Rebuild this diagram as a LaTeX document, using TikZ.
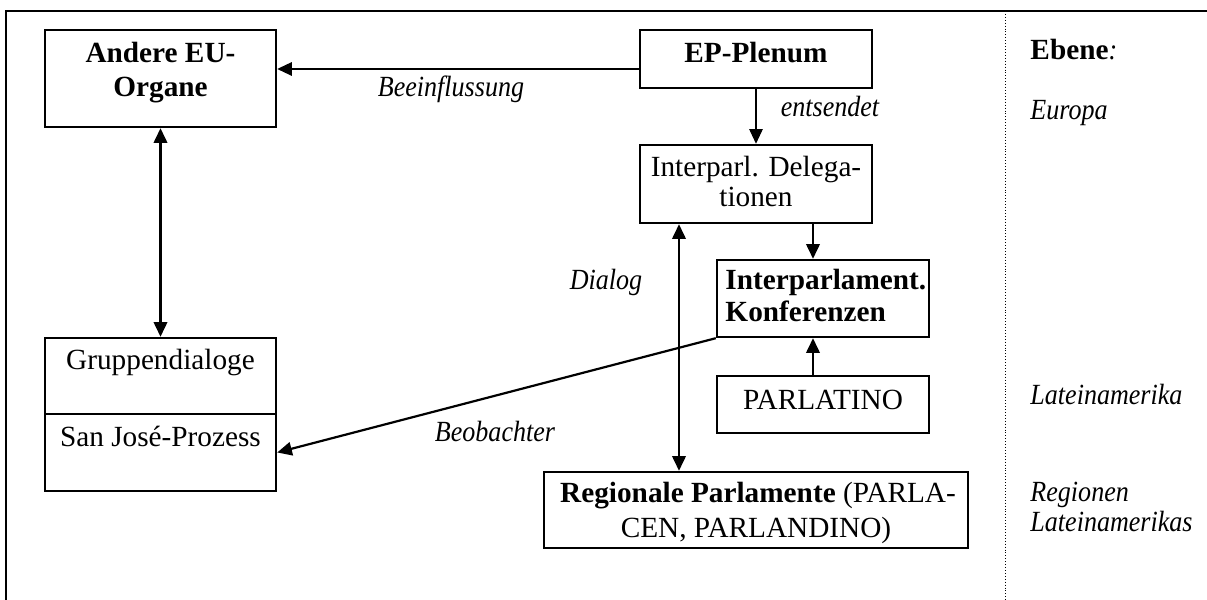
\documentclass[tikz,border=0pt]{standalone}
\usepackage{fontspec}
\setmainfont{Liberation Serif}[ItalicFeatures={FakeStretch=0.89}]
\usetikzlibrary{arrows.meta}

\tikzset{
  box/.style={draw, line width=1pt, inner sep=0pt},
  txt/.style={anchor=base, inner sep=0pt},
  lbl/.style={anchor=base, inner sep=0pt, font=\fontsize{12pt}{14pt}\selectfont\itshape},
  lvl/.style={anchor=base west, inner sep=0pt, font=\fontsize{12pt}{14pt}\selectfont\itshape},
  arr/.style={line width=0.9pt, -{Triangle[length=6pt,width=5.5pt]}},
  darr/.style={line width=0.9pt, {Triangle[length=6pt,width=5.5pt]}-{Triangle[length=6pt,width=5.5pt]}},
}

\begin{document}
\begin{tikzpicture}[x=0.41pt, y=-0.41pt, every node/.style={font=\fontsize{12pt}{14pt}\selectfont}]
   \useasboundingbox (0,0) rectangle (1207,600);
   % frame and level divider
   \draw[line width=1pt] (6,600) -- (6,11) -- (1207,11);
   \draw[line width=0.4pt, dash pattern=on 0.4pt off 0.8pt] (1005,11) -- (1005,600);

   % boxes
   \node[box, minimum width=94.71pt, minimum height=39.77pt] (andere) at (160.5,78.5) {};
   \node[box, minimum width=95.12pt, minimum height=23.78pt] (plenum) at (756,59) {};
   \node[box, minimum width=95.12pt, minimum height=31.98pt] (deleg) at (756,184) {};
   \node[box, minimum width=86.92pt, minimum height=31.57pt] (konf) at (823,298.5) {};
   \node[box, minimum width=86.92pt, minimum height=23.37pt] (parlatino) at (823,404.5) {};
   \node[box, minimum width=173.84pt, minimum height=31.16pt] (regional) at (756,510) {};
   \node[box, minimum width=94.71pt, minimum height=31.16pt] (gruppen) at (160.5,376) {};
   \node[box, minimum width=94.71pt, minimum height=31.57pt] (sanjose) at (160.5,452.5) {};

   % box texts
   \node[txt] at (160.5,63) {\textbf{Andere EU-}};
   \node[txt] at (160.5,97) {\textbf{Organe}};
   \node[txt] at (756,63) {\textbf{EP-Plenum}};
   \node[txt] at (756,177) {Interparl. Delega-};
   \node[txt] at (756,207) {tionen};
   \node[txt, anchor=base west] at (725,290) {\textbf{Interparlament.}};
   \node[txt, anchor=base west] at (725,322) {\textbf{Konferenzen}};
   \node[txt] at (823,410) {PARLATINO};
   \node[txt] at (758,503) {\textbf{Regionale Parlamente} (PARLA-};
   \node[txt] at (756,538) {CEN, PARLANDINO)};
   \node[txt] at (160.5,370) {Gruppendialoge};
   \node[txt] at (160.5,447) {San José-Prozess};

   % connectors
   \coordinate (mx) at (813,0);
   \coordinate (dx) at (679,0);
   \draw[arr, line width=0.7pt] ([yshift=-4.1pt]plenum.west) -- ([yshift=3.9pt]andere.east);
   \draw[arr, line width=0.5pt] (plenum.south) -- (deleg.north);
   \draw[arr] (deleg.south -| mx) -- (konf.north -| mx);
   \draw[arr] (parlatino.north -| mx) -- (konf.south -| mx);
   \draw[darr] (deleg.south -| dx) -- (regional.north -| dx);
   \draw[darr] (andere.south) -- (gruppen.north);
   \draw[arr] (konf.south west) -- (sanjose.east);

   % connector labels
   \node[lbl] at (451,97) {Beeinflussung};
   \node[lbl] at (830,117) {entsendet};
   \node[lbl] at (606,290) {Dialog};
   \node[lbl] at (495,442) {Beobachter};

   % levels
   \node[lvl] at (1030,60) {\textbf{\upshape Ebene}:};
   \node[lvl] at (1030,120) {Europa};
   \node[lvl] at (1030,405) {Lateinamerika};
   \node[lvl] at (1030,502) {Regionen};
   \node[lvl] at (1030,532) {Lateinamerikas};
\end{tikzpicture}
\end{document}
